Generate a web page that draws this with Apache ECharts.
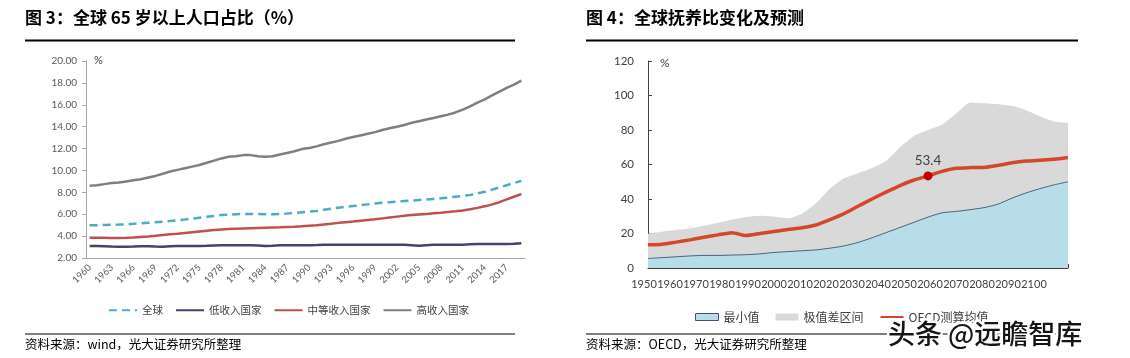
<!DOCTYPE html>
<html><head><meta charset="utf-8">
<script src="https://cdn.jsdelivr.net/npm/echarts@6/dist/echarts.min.js"></script>
<style>html,body{margin:0;padding:0;background:#fff}#c{width:1130px;height:358px}</style>
</head><body><div id="c"></div>
<script>
// ---- Figure 3 data ----
const years3 = ['1960','1961','1962','1963','1964','1965','1966','1967','1968','1969',
  '1970','1971','1972','1973','1974','1975','1976','1977','1978','1979',
  '1980','1981','1982','1983','1984','1985','1986','1987','1988','1989',
  '1990','1991','1992','1993','1994','1995','1996','1997','1998','1999',
  '2000','2001','2002','2003','2004','2005','2006','2007','2008','2009',
  '2010','2011','2012','2013','2014','2015','2016','2017','2018','2019'];
const globalShare = [5.0,5.0,5.02,5.03,5.05,5.08,5.12,5.17,5.22,5.27,
  5.32,5.38,5.45,5.52,5.6,5.68,5.76,5.84,5.92,5.97,
  6.0,6.02,6.03,6.02,6.0,6.0,6.02,6.06,6.12,6.18,
  6.23,6.3,6.4,6.5,6.6,6.68,6.75,6.82,6.9,6.97,
  7.04,7.1,7.15,7.2,7.25,7.3,7.35,7.4,7.45,7.52,
  7.6,7.68,7.76,7.9,8.05,8.25,8.45,8.65,8.85,9.05];
const lowIncome = [3.1,3.1,3.08,3.05,3.03,3.03,3.05,3.08,3.08,3.05,
  3.03,3.07,3.1,3.1,3.1,3.1,3.12,3.15,3.17,3.17,
  3.17,3.17,3.17,3.15,3.1,3.12,3.17,3.17,3.17,3.17,
  3.17,3.18,3.2,3.22,3.22,3.22,3.22,3.22,3.22,3.22,
  3.22,3.22,3.22,3.2,3.17,3.12,3.17,3.2,3.2,3.2,
  3.2,3.22,3.25,3.27,3.27,3.27,3.27,3.27,3.3,3.35];
const middleIncome = [3.85,3.85,3.84,3.83,3.83,3.84,3.87,3.92,3.97,4.03,
  4.1,4.16,4.22,4.29,4.36,4.43,4.5,4.56,4.61,4.65,
  4.68,4.7,4.72,4.74,4.76,4.78,4.8,4.83,4.86,4.9,
  4.95,5.0,5.07,5.14,5.21,5.27,5.33,5.4,5.47,5.54,
  5.62,5.7,5.78,5.86,5.92,5.98,6.03,6.08,6.13,6.2,
  6.27,6.35,6.45,6.58,6.72,6.9,7.1,7.35,7.6,7.85];
const highIncome = [8.6,8.65,8.75,8.85,8.9,9.0,9.1,9.2,9.35,9.5,
  9.7,9.9,10.05,10.2,10.35,10.5,10.7,10.9,11.1,11.25,
  11.3,11.4,11.4,11.3,11.25,11.3,11.45,11.6,11.75,11.95,
  12.05,12.2,12.4,12.55,12.7,12.9,13.05,13.2,13.35,13.5,
  13.7,13.85,14.0,14.15,14.35,14.5,14.65,14.8,14.95,15.1,
  15.3,15.55,15.85,16.2,16.5,16.85,17.2,17.55,17.85,18.2];

// ---- Figure 4 data ----
const years4 = ['1950','1955','1960','1965','1970','1975','1980','1985','1990','1995',
  '2000','2005','2010','2015','2020','2025','2030','2035','2040','2045',
  '2050','2055','2060','2065','2070','2075','2080','2085','2090','2095','2100'];
const minRatio = [5.5,6,6.5,7,7.3,7.3,7.5,7.7,8.2,9,
  9.5,10,10.5,11.5,12.8,14.8,17.5,20.5,23.5,26.5,
  29.5,32,32.8,33.8,35,37,40.5,43.5,46,48.2,50];
const maxRatio = [20,21,22,23,24.5,26.3,28,29.5,30.3,29.8,
  28.8,31.5,37.5,46,52,55,58,62,70,76.5,
  80,83,89.5,95.8,95.5,95,94,91.5,88,85,84.2];
const oecdMean = [13.5,13.8,15,16.3,17.8,19.2,20.5,18.8,20,21.2,
  22.3,23.3,24.9,28,31.5,35.8,40,44,47.8,51,
  53.4,56,57.8,58.2,58.3,59.5,61,62,62.5,63,64];
const yearLabels4 = ['1950','1960','1970','1980','1990','2000','2010','2020',
  '2030','2040','2050','2060','2070','2080','2090','2100'];
const highlightYear = '2050';

const NUM = 'Lato, "Noto Sans CJK SC", sans-serif';
const CJK = '"Noto Sans CJK SC", sans-serif';
const hi = years4.indexOf(highlightYear);

const chart = echarts.init(document.getElementById('c'), null, {renderer: 'canvas'});
chart.setOption({
  animation: false,
  backgroundColor: '#fff',
  grid: [
    {left: 86, top: 61, right: 605, bottom: 100},
    {left: 648, top: 61, right: 62, bottom: 90},
    {left: 631, top: 61, right: 83, bottom: 90}
  ],
  legend: [
    {data: ['全球','低收入国家','中等收入国家','高收入国家'], left: 103, top: 300,
     itemWidth: 28, itemHeight: 10, itemGap: 12, itemStyle: {opacity: 0},
     textStyle: {fontSize: 10.5, color: '#404040', fontFamily: CJK}},
    {data: [
      {name: '最小值', icon: 'rect', itemStyle: {color: '#b7dde8', borderColor: '#44546a', borderWidth: 1, opacity: 1}},
      {name: '极值差区间', icon: 'rect', itemStyle: {color: '#d9d9d9', borderWidth: 0, opacity: 1}},
      {name: 'OECD测算均值'}],
     left: 690, top: 306, itemWidth: 23, itemHeight: 7, itemGap: 16, itemStyle: {opacity: 0},
     textStyle: {fontSize: 12, color: '#404040', fontFamily: CJK}}
  ],
  xAxis: [
    {type: 'category', gridIndex: 0, data: years3, boundaryGap: true,
     axisLine: {lineStyle: {color: '#a6a6a6'}},
     axisTick: {interval: 2, length: 5, lineStyle: {color: '#a6a6a6'}},
     axisLabel: {interval: 2, rotate: 45, fontSize: 9.5, color: '#595959', fontFamily: NUM, margin: 8}},
    {type: 'category', gridIndex: 1, data: years4, boundaryGap: false,
     axisLine: {lineStyle: {color: '#404040'}},
     axisTick: {inside: true, interval: 0, length: 4, lineStyle: {color: '#404040'}},
     axisLabel: {show: false}},
    {type: 'category', gridIndex: 2, data: yearLabels4, boundaryGap: true,
     axisLine: {show: false}, axisTick: {show: false},
     axisLabel: {interval: 0, fontSize: 11, color: '#404040', fontFamily: NUM, margin: 11}}
  ],
  yAxis: [
    {type: 'value', gridIndex: 0, min: 2, max: 20, interval: 2,
     name: '%', nameLocation: 'end', nameGap: 1,
     nameTextStyle: {align: 'left', verticalAlign: 'middle', padding: [0,0,0,8], fontSize: 11, color: '#404040', fontFamily: NUM},
     axisLine: {show: true, lineStyle: {color: '#a6a6a6'}},
     axisTick: {show: true, length: 4, lineStyle: {color: '#a6a6a6'}},
     splitLine: {show: false},
     axisLabel: {formatter: v => v.toFixed(2), fontSize: 10, color: '#595959', fontFamily: NUM, margin: 9}},
    {type: 'value', gridIndex: 1, min: 0, max: 120, interval: 20,
     name: '%', nameLocation: 'end', nameGap: -2,
     nameTextStyle: {align: 'left', verticalAlign: 'middle', padding: [0,0,0,12], fontSize: 12, color: '#404040', fontFamily: NUM},
     axisLine: {show: true, lineStyle: {color: '#404040'}},
     axisTick: {show: true, inside: true, length: 4, lineStyle: {color: '#404040'}},
     splitLine: {show: false},
     axisLabel: {fontSize: 11.5, color: '#404040', fontFamily: NUM, margin: 14}},
    {type: 'value', gridIndex: 2, show: false, min: 0, max: 120}
  ],
  series: [
    {name: '全球', type: 'line', xAxisIndex: 0, yAxisIndex: 0, data: globalShare, symbol: 'none',
     lineStyle: {color: '#4bacc6', width: 2.5, type: [8, 5]}, itemStyle: {color: '#4bacc6'}},
    {name: '低收入国家', type: 'line', xAxisIndex: 0, yAxisIndex: 0, data: lowIncome, symbol: 'none',
     lineStyle: {color: '#44436b', width: 2.5}, itemStyle: {color: '#44436b'}},
    {name: '中等收入国家', type: 'line', xAxisIndex: 0, yAxisIndex: 0, data: middleIncome, symbol: 'none',
     lineStyle: {color: '#c0504d', width: 2.5}, itemStyle: {color: '#c0504d'}},
    {name: '高收入国家', type: 'line', xAxisIndex: 0, yAxisIndex: 0, data: highIncome, symbol: 'none',
     lineStyle: {color: '#7f7f7f', width: 2.5}, itemStyle: {color: '#7f7f7f'}},

    {name: '极值差区间', type: 'line', xAxisIndex: 1, yAxisIndex: 1, data: maxRatio, symbol: 'none', smooth: 0.2,
     lineStyle: {width: 0, color: '#d9d9d9'}, areaStyle: {color: '#d9d9d9', opacity: 1},
     itemStyle: {color: '#d9d9d9'}, z: 1},
    {name: '最小值', type: 'line', xAxisIndex: 1, yAxisIndex: 1, data: minRatio, symbol: 'none', smooth: 0.2,
     lineStyle: {width: 1, color: '#4d6380'}, areaStyle: {color: '#b7dde8', opacity: 1},
     itemStyle: {color: '#b7dde8', borderColor: '#44546a', borderWidth: 1}, z: 2},
    {name: 'OECD测算均值', type: 'line', xAxisIndex: 1, yAxisIndex: 1, data: oecdMean, symbol: 'none', smooth: 0.2,
     lineStyle: {width: 3.5, color: '#d4472a'}, itemStyle: {color: '#d4472a'}, z: 3,
     markPoint: {symbol: 'circle', symbolSize: 9, itemStyle: {color: '#c00000', opacity: 1},
       label: {show: true, position: 'top', distance: 4, fontSize: 13.5, color: '#404040', fontFamily: NUM,
               formatter: p => String(p.value)},
       data: [{coord: [highlightYear, oecdMean[hi]], value: oecdMean[hi]}]}}
  ],
  graphic: [
    {type: 'text', x: 25, y: 18, style: {text: '图 3：全球 65 岁以上人口占比（%）', fontSize: 17, fontWeight: 'bold', fontFamily: CJK, fill: '#000', verticalAlign: 'middle'}},
    {type: 'text', x: 586, y: 18, style: {text: '图 4：全球抚养比变化及预测', fontSize: 17, fontWeight: 'bold', fontFamily: CJK, fill: '#000', verticalAlign: 'middle'}},
    {type: 'rect', shape: {x: 25, y: 39.5, width: 490, height: 2}, style: {fill: '#000'}},
    {type: 'rect', shape: {x: 586, y: 39.5, width: 492, height: 2}, style: {fill: '#000'}},
    {type: 'rect', shape: {x: 25, y: 333.5, width: 490, height: 1}, style: {fill: '#000'}},
    {type: 'rect', shape: {x: 586, y: 333.5, width: 492, height: 1}, style: {fill: '#000'}},
    {type: 'text', x: 25, y: 344, style: {text: '资料来源：wind，光大证券研究所整理', fontSize: 12.5, fontFamily: CJK, fill: '#000', verticalAlign: 'middle'}},
    {type: 'text', x: 586, y: 344, style: {text: '资料来源：OECD，光大证券研究所整理', fontSize: 12.5, fontFamily: CJK, fill: '#000', verticalAlign: 'middle'}},
    {type: 'text', x: 888, y: 334, z: 100, style: {text: '头条 @远瞻智库', fontSize: 27, fontWeight: 500, fontFamily: CJK, fill: '#fff', stroke: '#fff', lineWidth: 5, verticalAlign: 'middle'}},
    {type: 'text', x: 888, y: 334, z: 101, style: {text: '头条 @远瞻智库', fontSize: 27, fontWeight: 500, fontFamily: CJK, fill: '#151515', verticalAlign: 'middle'}}
  ]
});
</script></body></html>
